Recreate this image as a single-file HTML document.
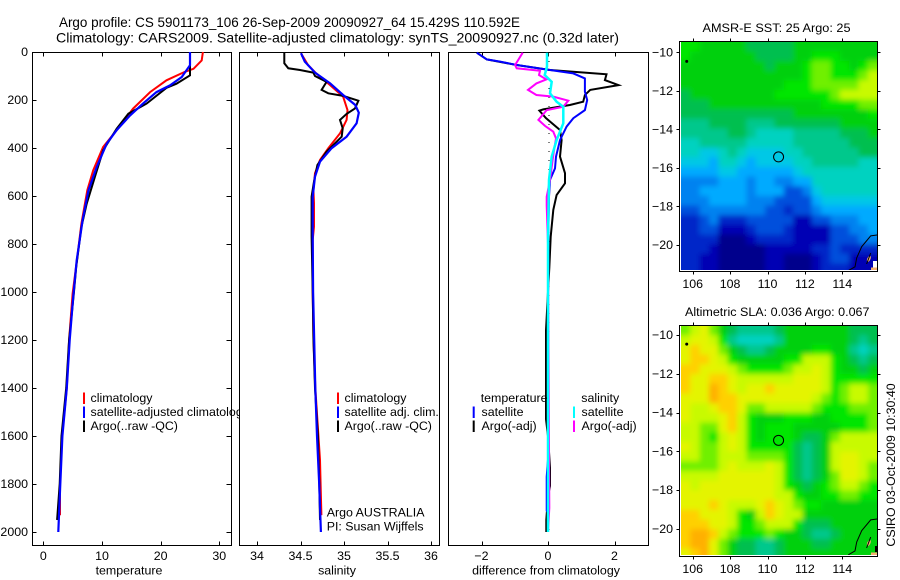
<!DOCTYPE html>
<html lang="en">
<head>
<meta charset="utf-8">
<title>Argo profile 5901173_106</title>
<style>
html,body{margin:0;padding:0;background:#fff;}
svg{display:block;font-family:"Liberation Sans",sans-serif;font-size:12.4px;fill:#000;}
</style>
</head>
<body>
<svg id="chart" xmlns="http://www.w3.org/2000/svg" width="900" height="580" viewBox="0 0 900 580">
  <defs>
    <filter id="soft" x="-10%" y="-10%" width="120%" height="120%"><feGaussianBlur stdDeviation="2.6"/></filter>
    <clipPath id="clip-sst"><rect x="681" y="42" width="196" height="228"/></clipPath>
    <clipPath id="clip-sla"><rect x="681" y="326" width="196" height="229"/></clipPath>
  </defs>
  <rect width="900" height="580" fill="#fff"/>
  <text x="59" y="27" font-size="14" textLength="461" lengthAdjust="spacingAndGlyphs">Argo profile: CS 5901173_106 26-Sep-2009 20090927_64 15.429S 110.592E</text>
  <text x="56" y="42.5" font-size="14" textLength="563" lengthAdjust="spacingAndGlyphs">Climatology: CARS2009. Satellite-adjusted climatology: synTS_20090927.nc (0.32d later)</text>
  <g id="panels"></g>
  <text x="702.5" y="32" textLength="148" lengthAdjust="spacingAndGlyphs">AMSR-E SST: 25 Argo: 25</text>
  <text x="685" y="316" textLength="184.5" lengthAdjust="spacingAndGlyphs">Altimetric SLA: 0.036 Argo: 0.067</text>
  <text transform="translate(895,465) rotate(-90)" text-anchor="middle">CSIRO 03-Oct-2009 10:30:40</text>
</svg>
<script>
// ---- profile data ----
const depthTicks = [0,200,400,600,800,1000,1200,1400,1600,1800,2000];
const tempTicks = [0,10,20,30];
const salTicks = [34,34.5,35,35.5,36];
const diffTicks = [-2,0,2];

const tempClimDepth = [0,35,70,83,118,167,236,326,396,493,576,715,854,1007,1200,1400,1600,1800,1930];
const tempClim = [27.2,27.0,25.6,24.1,21,18.2,15.3,12.5,10.2,8.5,7.5,6.5,5.8,5,4.4,4,3.2,2.85,2.85];
const tempArgoDepth = [0,97,132,149,215,257,320,410,520,632,729,896,1007,1200,1400,1600,1800,1950];
const tempArgo = [25,25,22.7,21,17.6,14.5,12.5,10.2,8.8,7.4,6.5,5.6,5.2,4.4,3.9,3.1,2.8,2.35];
const tempSatDepth = [0,55,104,139,167,215,264,326,382,479,576,701,868,1021,1200,1400,1600,1800,2000];
const tempSat = [25,25,23.6,21.6,19.3,17,14.8,12.5,10.8,9.1,7.7,6.7,5.7,5.1,4.5,4,3.25,2.9,2.55];

const salClimDepth = [5,54,89,138,186,242,283,339,401,450,505,575,630,728,783,1000,1200,1400,1700,1850,1930];
const salClim = [34.506,34.586,34.68,34.84,34.99,35.04,35.03,34.954,34.82,34.724,34.667,34.648,34.655,34.655,34.64,34.64,34.65,34.67,34.724,34.735,34.74];
const salArgoDepth = [3,47,68,75,86,100,124,158,172,183,203,235,258,283,318,353,415,471,540,603,769,1000,1200,1400,1600,1800,1950];
const salArgo = [34.314,34.314,34.36,34.494,34.647,34.667,34.80,34.743,34.82,34.99,35.165,35.127,35.03,34.954,34.985,34.973,34.80,34.694,34.655,34.628,34.628,34.64,34.65,34.667,34.70,34.716,34.724];
const salSatDepth = [5,40,86,131,179,221,253,297,353,401,457,519,603,769,1000,1400,1600,1800,2000];
const salSat = [34.506,34.55,34.667,34.84,34.99,35.13,35.17,35.145,35.03,34.858,34.724,34.667,34.64,34.64,34.645,34.67,34.69,34.715,34.735];

const diffTSatDepth = [3,31,40,54,75,89,110,165,200,242,276,311,367,436,485,533,603,769,1000,1700,1770,1910,1920,2000];
const diffTSat = [-2.14,-1.84,-1.44,-0.94,0.06,0.76,1.11,1.11,1.18,1.11,0.76,0.56,0.36,0.24,0.21,0.06,0.03,0.01,0,0,-0.04,-0.04,0,0];
const diffTArgoDepth = [3,31,54,75,93,117,138,158,179,207,221,239,244,276,325,367,436,505,547,596,658,769,900,1000,1160,1530,1600,1733,1808,1850,1950,2000];
const diffTArgo = [-2.14,-1.84,-0.94,0.06,1.76,1.71,2.12,1.27,1.11,1.06,0.66,-0.14,-0.26,-0.06,0.36,0.41,0.36,0.51,0.51,0.26,0.16,0.08,0.04,0,-0.06,-0.06,0,0.06,0.06,0,-0.05,-0.05];
const diffSSatDepth = [3,61,96,124,172,207,228,297,367,436,533,769,2000];
const diffSSat = [-0.03,-0.03,-0.1,0.11,0.06,0.26,0.46,0.46,0.26,0.11,0.03,0,0];
const diffSArgoDepth = [3,54,68,78,96,114,131,158,179,186,203,228,242,283,308,332,360,429,533,603,640,800,1900,2000];
const diffSArgo = [-0.76,-0.99,-0.94,-0.24,-0.27,-0.05,-0.35,-0.6,-0.35,0.16,0.61,0.46,-0.04,-0.29,-0.09,0.16,0.24,0.16,0.06,-0.04,-0.04,0,0.04,0];

// ---- map data ----
const lonTicks = [106,108,110,112,114];
const latTicks = [-10,-12,-14,-16,-18,-20];
const coastLon = [115.87,115.52,115.04,114.77,114.68,114.32];
const coastLat = [-19.48,-19.53,-20.09,-20.67,-21.13,-21.33];
const isletLon = [115.52,115.3];
const isletLat = [-20.42,-20.98];
const argoLon = 110.592;
const argoLat = -15.429;

const sstLevels = [
[11,11,10,10,10,10,10,9,9,9,9,9,10,10,10,10,10,10,10,10,10],
[11,10,10,10,10,10,10,10,9,9,9,9,10,10,11,11,11,10,10,10,10],
[10,10,10,10,10,10,10,10,10,9,10,10,10,11,12,12,11,11,10,11,12],
[10,10,10,10,10,10,10,10,10,10,10,10,10,11,12,12,11,11,11,12,13],
[10,10,10,10,10,10,10,10,10,10,10,11,11,11,12,12,12,12,12,13,13],
[9,10,10,10,10,10,10,10,10,10,11,11,11,11,11,11,12,13,13,13,13],
[9,9,9,10,10,10,10,10,10,10,10,10,10,10,10,11,11,11,11,12,12],
[9,9,9,9,9,9,9,9,9,9,9,9,10,10,10,10,10,10,10,10,11],
[8,8,8,9,9,9,9,8,8,8,9,9,9,9,9,9,9,10,10,10,10],
[8,8,8,8,8,9,9,8,7,7,7,7,8,8,8,8,8,9,9,9,10],
[7,7,8,8,8,8,8,7,7,7,7,7,8,8,8,8,8,8,9,9,9],
[7,7,6,6,7,8,7,6,6,6,6,7,7,8,8,8,8,8,8,9,9],
[6,6,6,5,7,7,6,5,6,6,6,6,7,7,8,8,8,8,8,7,7],
[5,5,5,5,6,6,5,5,5,5,5,5,6,7,7,7,7,7,7,7,7],
[4,4,4,4,5,5,5,4,5,5,4,4,5,5,7,7,7,7,7,7,7],
[4,4,5,5,5,5,5,4,5,5,5,3,3,4,6,7,7,7,7,7,7],
[4,4,4,5,5,5,5,4,4,4,3,3,3,3,5,6,6,6,6,6,6],
[3,3,4,4,4,4,4,4,4,3,3,2,3,3,4,5,5,5,5,5,5],
[2,2,3,4,2,2,2,3,3,3,3,3,1,1,3,3,4,4,4,5,5],
[2,2,3,3,1,1,1,2,3,3,3,2,1,1,1,1,3,3,4,4,5],
[2,2,2,2,0,0,0,1,2,2,2,2,1,1,1,1,3,3,3,4,4],
[2,2,2,1,0,0,0,0,0,1,1,1,1,1,2,2,3,2,2,2,2],
[2,2,1,1,0,0,0,0,0,1,1,0,0,0,1,2,3,3,1,1,1],
[2,2,1,1,0,0,0,0,0,1,1,0,0,0,1,2,2,2,1,1,1]
];

const slaLevels = [
[12,13,14,12,10,9,8,8,8,8,9,10,10,10,10,10,10,10,9,9,9],
[13,14,14,13,11,8,7,7,7,7,8,10,10,10,10,10,10,10,9,8,9],
[14,15,14,14,12,10,9,8,8,9,10,10,10,10,11,11,10,10,8,7,8],
[14,15,15,14,13,11,10,10,10,10,10,11,11,13,13,13,11,10,9,8,9],
[15,15,14,14,14,13,12,11,11,11,11,12,13,13,14,13,11,10,10,9,10],
[15,14,14,15,15,14,13,13,13,13,13,13,14,14,14,13,11,11,11,11,11],
[15,14,14,16,15,14,13,14,14,15,14,14,14,14,14,13,11,12,13,13,12],
[14,14,14,16,15,15,14,14,14,14,14,14,14,14,13,12,11,12,13,13,12],
[14,13,13,14,15,15,14,12,12,13,13,13,13,13,12,11,11,11,12,12,12],
[14,13,13,13,14,15,13,11,10,10,10,11,11,11,10,10,11,11,11,11,12],
[13,13,12,12,14,15,13,11,10,11,11,11,10,10,10,10,10,11,11,11,12],
[13,13,12,11,13,14,13,11,10,11,11,11,10,9,9,10,12,13,13,13,13],
[14,13,12,12,13,14,13,11,11,11,11,11,9,8,9,10,13,13,13,13,13],
[13,13,12,12,13,13,13,12,12,12,12,11,9,8,9,10,13,14,14,13,13],
[12,12,12,12,13,14,13,13,13,14,13,11,9,8,9,10,13,14,14,13,12],
[13,13,13,13,14,14,14,14,14,14,13,11,9,8,9,10,12,14,14,13,12],
[14,13,14,14,14,14,14,14,14,14,13,11,10,9,10,11,12,13,13,12,11],
[14,14,14,14,14,14,14,14,14,14,13,13,11,10,10,11,11,12,12,11,11],
[14,14,14,15,14,13,13,13,14,15,14,13,12,11,11,10,10,10,10,10,10],
[15,15,14,14,14,13,11,10,13,15,14,13,13,10,10,10,10,10,10,10,10],
[15,15,15,14,14,13,11,11,12,13,13,13,11,9,9,9,10,10,10,10,10],
[15,16,16,15,13,12,11,11,11,12,11,10,10,9,8,8,9,10,10,10,10],
[15,16,16,14,12,10,9,9,8,8,9,10,10,10,9,9,10,10,10,10,10],
[14,15,16,14,12,10,9,9,8,8,9,10,10,10,10,10,10,10,10,10,10]
];

// ---- helpers ----
const NS = 'http://www.w3.org/2000/svg';
const root = document.getElementById('panels');
function make(parent, tag, attrs, txt){
  const el = document.createElementNS(NS, tag);
  for (const k in attrs) el.setAttribute(k, attrs[k]);
  if (txt !== undefined) el.textContent = txt;
  parent.appendChild(el);
  return el;
}
const fmtMinus = v => String(v).replace('-', '\u2212');
const depthY = d => 52 + d * 0.24;
const tempX = t => 43.3 + t * 5.867;
const salX = s => 257 + (s - 34) * 87;
const diffX = v => 548 + v * 33.25;

function profileLine(parent, xf, depths, values, color, width, name){
  const pts = depths.map((d, i) => xf(values[i]).toFixed(1) + ',' + depthY(d).toFixed(1)).join(' ');
  const el = make(parent, 'polyline', {points: pts, fill: 'none', stroke: color, 'stroke-width': width, 'stroke-linejoin': 'miter'});
  
  
}

function frame(name, left, right, top, bottom, xf, ticks, xlabel, xlabelX, withDepthTicks){
  const g = make(root, 'g', {});
  
  
  const bg = make(g, 'rect', {x: left, y: top, width: right - left, height: bottom - top, fill: '#fff', stroke: '#000', 'stroke-width': 1});
  
  
  ticks.forEach(t => {
    const x = Math.round(xf(t)) + 0.5;
    const a = make(g, 'path', {d: 'M' + x + ' ' + top + 'v4M' + x + ' ' + bottom + 'v-4', stroke: '#000', fill: 'none'});
    
    
    const lab = make(g, 'text', {x: xf(t), y: 560, 'text-anchor': 'middle'}, fmtMinus(t));
    
    
  });
  if (withDepthTicks) {
    depthTicks.forEach(d => {
      const y = Math.round(depthY(d)) + 0.5;
      const a = make(g, 'path', {d: 'M' + left + ' ' + y + 'h4M' + right + ' ' + y + 'h-5', stroke: '#000', fill: 'none'});
      
      
      const lab = make(g, 'text', {x: 28, y: depthY(d) + 4, 'text-anchor': 'end'}, String(d));
      
      
    });
  }
  const xl = make(g, 'text', {x: xlabelX, y: 574.5, 'text-anchor': 'middle'}, xlabel);
  
  
  return g;
}

function legendEntry(parent, mx, tx, topY, color, label){
  const m = make(parent, 'rect', {x: mx - 1, y: topY, width: 2, height: 11.5, fill: color});
  
  
  const t = make(parent, 'text', {x: tx, y: topY + 9.5}, label);
  
  
}

// ---- panel 1: temperature ----
const p1 = frame('temperature-panel', 32.5, 231.5, 52.5, 545.5, tempX, tempTicks, 'temperature', 129, true);
profileLine(p1, tempX, tempClimDepth, tempClim, '#ff0000', 2, 'temperature-climatology-line');
profileLine(p1, tempX, tempArgoDepth, tempArgo, '#000000', 2, 'temperature-argo-line');
profileLine(p1, tempX, tempSatDepth, tempSat, '#0000ff', 2.2, 'temperature-satellite-line');
legendEntry(p1, 84, 90.5, 392.5, '#ff0000', 'climatology');
legendEntry(p1, 84, 90.5, 406.5, '#0000ff', 'satellite-adjusted climatology');
legendEntry(p1, 84, 90.5, 420.5, '#000000', 'Argo(..raw -QC)');

// ---- panel 2: salinity ----
const p2 = frame('salinity-panel', 239.5, 439.5, 52.5, 545.5, salX, salTicks, 'salinity', 337, false);
profileLine(p2, salX, salClimDepth, salClim, '#ff0000', 2, 'salinity-climatology-line');
profileLine(p2, salX, salArgoDepth, salArgo, '#000000', 2, 'salinity-argo-line');
profileLine(p2, salX, salSatDepth, salSat, '#0000ff', 2.2, 'salinity-satellite-line');
legendEntry(p2, 338, 344.5, 392.5, '#ff0000', 'climatology');
legendEntry(p2, 338, 344.5, 406.5, '#0000ff', 'satellite adj. clim.');
legendEntry(p2, 338, 344.5, 420.5, '#000000', 'Argo(..raw -QC)');
const note1 = make(p2, 'text', {x: 326.7, y: 516.5}, 'Argo AUSTRALIA');


const note2 = make(p2, 'text', {x: 326.7, y: 530.5}, 'PI: Susan Wijffels');



// ---- panel 3: differences ----
const p3 = frame('difference-panel', 448.5, 648.5, 52.5, 545.5, diffX, diffTicks, 'difference from climatology', 546, false);
const zeroLine = make(p3, 'line', {x1: diffX(0) + 1, x2: diffX(0) + 1, y1: depthY(0), y2: depthY(2020), stroke: '#000', 'stroke-width': 1, 'stroke-dasharray': '1 8'});


profileLine(p3, diffX, diffTArgoDepth, diffTArgo, '#000000', 2, 'difference-temperature-argo-line');
profileLine(p3, diffX, diffTSatDepth, diffTSat, '#0000ff', 2, 'difference-temperature-satellite-line');
profileLine(p3, diffX, diffSArgoDepth, diffSArgo, '#ff00ff', 2, 'difference-salinity-argo-line');
profileLine(p3, diffX, diffSSatDepth, diffSSat, '#00ffff', 2.5, 'difference-salinity-satellite-line');
const hdrT = make(p3, 'text', {x: 480.7, y: 402}, 'temperature');


const hdrS = make(p3, 'text', {x: 581.3, y: 402}, 'salinity');


legendEntry(p3, 473.7, 481.5, 406.5, '#0000ff', 'satellite');
legendEntry(p3, 473.7, 481.5, 420.5, '#000000', 'Argo(-adj)');
legendEntry(p3, 574, 581.5, 406.5, '#00ffff', 'satellite');
legendEntry(p3, 574, 581.5, 420.5, '#ff00ff', 'Argo(-adj)');

// ---- maps ----
const palette = ['#00008c','#0000b4','#0028c8','#0050dc','#0082f0','#00aaff','#00c8e6','#00d2c0','#00c88c','#00bf50','#00d010','#00e600','#70f000','#c8fa00','#e4f400','#ffd000','#ffb000'];

function drawMap(name, levels, clipId, cfg){
  const lonX = lon => 692.7 + (lon - 106) * 18.7;
  const latY = lat => cfg.y10 + (-10 - lat) * cfg.pxPerDeg;
  const g = make(root, 'g', {});
  
  
  const clip = make(g, 'g', {'clip-path': 'url(#' + clipId + ')'});
  const heat = make(clip, 'g', {filter: 'url(#soft)'});
  const nRows = levels.length, nCols = levels[0].length;
  levels.forEach((row, r) => {
    row.forEach((v, c) => {
      const x0 = lonX(cfg.lonLeft + c * 0.5), x1 = lonX(cfg.lonLeft + (c + 1) * 0.5);
      const y0 = latY(cfg.latTop - r * 0.5), y1 = latY(cfg.latTop - (r + 1) * 0.5);
      const pad = 12;
      const left = c === 0 ? x0 - pad : x0, right = c === nCols - 1 ? x1 + pad : x1;
      const top = r === 0 ? y0 - pad : y0, bottom = r === nRows - 1 ? y1 + pad : y1;
      const cell = make(heat, 'rect', {x: left.toFixed(2), y: top.toFixed(2), width: (right - left + 0.4).toFixed(2), height: (bottom - top + 0.4).toFixed(2), fill: palette[Math.max(0, Math.min(palette.length - 1, Math.round(v)))]});
      
      
    });
  });
  // land patches and coast
  const land = make(clip, 'rect', {x: cfg.landX, y: cfg.landTop, width: 877 - cfg.landX, height: cfg.landH, fill: cfg.landFill});
  
  
  const landBase = make(clip, 'rect', {x: 871, y: cfg.bottom - 4, width: 6, height: 4, fill: '#f4b070'});
  
  
  const isleFill = make(clip, 'ellipse', {cx: lonX(115.42), cy: latY(-20.72), rx: 1.6, ry: 3.2, fill: '#f4b070', transform: 'rotate(25 ' + lonX(115.42) + ' ' + latY(-20.72) + ')'});
  
  
  const coast = make(clip, 'polyline', {points: coastLon.map((lo, i) => lonX(lo).toFixed(1) + ',' + latY(coastLat[i]).toFixed(1)).join(' '), fill: 'none', stroke: '#000', 'stroke-width': 1});
  
  
  const islet = make(clip, 'polyline', {points: isletLon.map((lo, i) => lonX(lo).toFixed(1) + ',' + latY(isletLat[i]).toFixed(1)).join(' '), fill: 'none', stroke: '#000', 'stroke-width': 1});
  
  
  const xmas = make(clip, 'circle', {cx: lonX(105.68), cy: latY(-10.47), r: 1.5, fill: '#000'});
  
  
  const marker = make(g, 'circle', {cx: lonX(argoLon), cy: latY(argoLat), r: 5, fill: 'none', stroke: '#000', 'stroke-width': 1});
  
  
  const border = make(g, 'rect', {x: 679.5, y: cfg.top, width: 198, height: cfg.bottom - cfg.top, fill: 'none', stroke: '#000', 'stroke-width': 1});
  
  
  lonTicks.forEach(lon => {
    const x = Math.round(lonX(lon)) + 0.5;
    const t = make(g, 'path', {d: 'M' + x + ' ' + cfg.top + 'v-3M' + x + ' ' + cfg.bottom + 'v3', stroke: '#000', fill: 'none'});
    
    
    const lab = make(g, 'text', {x: lonX(lon), y: cfg.labelY, 'text-anchor': 'middle'}, String(lon));
    
    
  });
  latTicks.forEach(lat => {
    const y = Math.round(latY(lat)) + 0.5;
    const t = make(g, 'path', {d: 'M679.5 ' + y + 'h-3M877.5 ' + y + 'h3', stroke: '#000', fill: 'none'});
    
    
    const lab = make(g, 'text', {x: 673, y: latY(lat) + 4, 'text-anchor': 'end'}, fmtMinus(lat));
    
    
  });
}

drawMap('sst-map', sstLevels, 'clip-sst', {y10: 52.3, pxPerDeg: 19.27, lonLeft: 105.37, latTop: -9.45, top: 41.5, bottom: 271.5, labelY: 288, landX: 873, landTop: 261, landH: 7, landFill: '#ffffff'});
drawMap('sla-map', slaLevels, 'clip-sla', {y10: 335, pxPerDeg: 19.4, lonLeft: 105.37, latTop: -9.51, top: 325.5, bottom: 556.5, labelY: 573, landX: 875, landTop: 546, landH: 6, landFill: '#000000'});
</script>
</body>
</html>
